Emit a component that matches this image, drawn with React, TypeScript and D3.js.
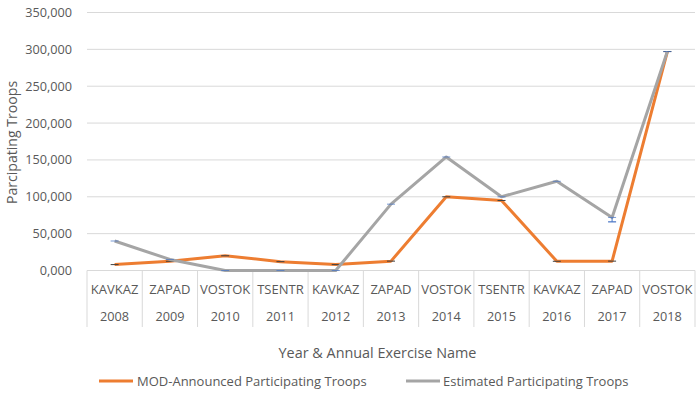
import React from "react";
import * as d3 from "d3";

const exercises = ["KAVKAZ", "ZAPAD", "VOSTOK", "TSENTR", "KAVKAZ", "ZAPAD", "VOSTOK", "TSENTR", "KAVKAZ", "ZAPAD", "VOSTOK"];
const years = ["2008", "2009", "2010", "2011", "2012", "2013", "2014", "2015", "2016", "2017", "2018"];
const modAnnounced = [8000, 12500, 20000, 12000, 8000, 12700, 100000, 95000, 12500, 12700, 297000];
const estimated = [40000, 15000, 0, 0, 0, 90000, 154000, 100000, 121000, 72000, 297000];
const estimatedLow = [null, null, null, null, null, null, null, null, null, 66000, null];
const yTicks = [0, 50000, 100000, 150000, 200000, 250000, 300000, 350000];

const W = 700, H = 395;
const left = 87, right = 695, top = 12.5, bottom = 270.5;
const FONT = "'Open Sans', 'Liberation Sans', sans-serif";
const TXT = "#595959";

export default function App() {
  const idx = years.map((_, i) => i);
  const x = d3.scaleBand<number>().domain(idx).range([left, right]).padding(0);
  const y = d3.scaleLinear().domain([0, 350000]).range([bottom, top]);
  const cx = (i: number) => (x(i) as number) + x.bandwidth() / 2;
  const line = d3.line<number>().x((_, i) => cx(i)).y((d) => y(d));
  const fmt = (v: number) => (v === 0 ? "0,000" : d3.format(",")(v));

  return (
    <svg width={W} height={H} style={{ position: "absolute", left: 0, top: 0, background: "#fff" }}>
      {yTicks.map((t) => (
        <g key={t}>
          {t > 0 && <line x1={left} x2={right} y1={y(t)} y2={y(t)} stroke="#d9d9d9" strokeWidth={1} />}
          <text x={72} y={y(t)} dy="0.35em" textAnchor="end" fontFamily={FONT} fontSize={12.7} fill={TXT}>
            {fmt(t)}
          </text>
        </g>
      ))}
      {/* category table */}
      <line x1={left} x2={right} y1={bottom} y2={bottom} stroke="#d9d9d9" />
      {[...idx, idx.length].map((i) => {
        const xx = i < idx.length ? (x(i) as number) : right;
        return <line key={"v" + i} x1={xx} x2={xx} y1={bottom} y2={327} stroke="#d9d9d9" />;
      })}
      {idx.map((i) => (
        <g key={"c" + i}>
          <text x={cx(i)} y={289.5} dy="0.35em" textAnchor="middle" fontFamily={FONT} fontSize={13} fill={TXT}>
            {exercises[i]}
          </text>
          <text x={cx(i)} y={317} dy="0.35em" textAnchor="middle" fontFamily={FONT} fontSize={12.7} fill={TXT}>
            {years[i]}
          </text>
        </g>
      ))}
      <path d={line(modAnnounced) || ""} fill="none" stroke="#ED7D31" strokeWidth={3} strokeLinejoin="round" />
      {modAnnounced.map((v, i) => (
        <line key={"mc" + i} x1={cx(i) - 4} x2={cx(i) + 4} y1={y(v)} y2={y(v)} stroke="#404040" strokeWidth={1} />
      ))}
      <path d={line(estimated) || ""} fill="none" stroke="#A5A5A5" strokeWidth={3} strokeLinejoin="round" />
      {estimated.map((v, i) => (
        <line key={"ec" + i} x1={cx(i) - 4} x2={cx(i) + 4} y1={y(v)} y2={y(v)} stroke="#4472C4" strokeWidth={1} opacity={0.7} />
      ))}
      {estimatedLow.map((v, i) =>
        v == null ? null : (
          <g key={"el" + i}>
            <line x1={cx(i)} x2={cx(i)} y1={y(estimated[i])} y2={y(v)} stroke="#4472C4" strokeWidth={1} />
            <line x1={cx(i) - 4} x2={cx(i) + 4} y1={y(v)} y2={y(v)} stroke="#4472C4" strokeWidth={1.2} />
          </g>
        )
      )}
      <text
        transform={`translate(12,142.5) rotate(-90)`}
        textAnchor="middle"
        dy="0.35em"
        fontFamily={FONT}
        fontSize={14.1}
        fill={TXT}
      >
        Parcipating Troops
      </text>
      <text x={377.5} y={353} dy="0.35em" textAnchor="middle" fontFamily={FONT} fontSize={14.4} fill={TXT}>
        Year &amp; Annual Exercise Name
      </text>
      <line x1={99} x2={133} y1={381} y2={381} stroke="#ED7D31" strokeWidth={3} />
      <text x={137} y={381} dy="0.35em" fontFamily={FONT} fontSize={13} fill={TXT}>
        MOD-Announced Participating Troops
      </text>
      <line x1={406} x2={440} y1={381} y2={381} stroke="#A5A5A5" strokeWidth={3} />
      <text x={443} y={381} dy="0.35em" fontFamily={FONT} fontSize={13} fill={TXT}>
        Estimated Participating Troops
      </text>
    </svg>
  );
}
